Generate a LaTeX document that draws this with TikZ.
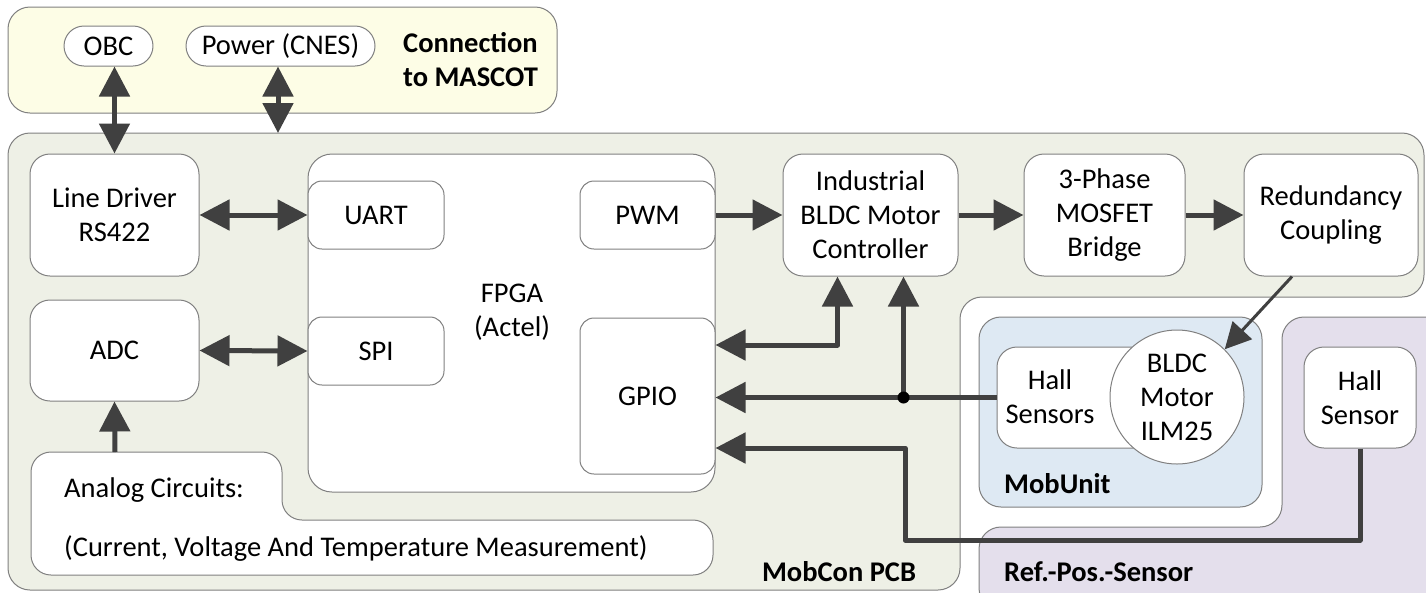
\documentclass[tikz,border=0pt]{standalone}
\usepackage{fontspec}
\setmainfont{Carlito}
\usetikzlibrary{arrows.meta}
\definecolor{yellowbg}{RGB}{253,253,230}
\definecolor{pcbbg}{RGB}{238,240,230}
\definecolor{mobbg}{RGB}{222,233,243}
\definecolor{refbg}{RGB}{228,223,236}
\definecolor{linegray}{RGB}{128,128,128}
\definecolor{arrowgray}{RGB}{64,64,64}
\begin{document}
\begin{tikzpicture}[x=1pt,y=-1pt,line join=round,
    >={Triangle[length=30pt,width=30pt]},
    frame/.style={draw=linegray,line width=1pt,rounded corners=22pt},
    blk/.style={draw=linegray,line width=1pt,fill=white,rounded corners=20pt,align=center,inner sep=0pt},
    subblk/.style={blk,rounded corners=14pt,minimum width=136pt,minimum height=68pt},
    pill/.style={blk,rounded corners=20pt,minimum height=40pt},
    thick arrow/.style={draw=arrowgray,line width=5pt},
    thin arrow/.style={draw=arrowgray,line width=3pt,-{Triangle[length=26pt,width=26pt]}},
    title/.style={font=\bfseries,inner sep=0pt,align=left}]
  \fontsize{28.5}{34}\selectfont
  \useasboundingbox[fill=white] (0,0) rectangle (1426,592);
  % containers
  \draw[frame,fill=yellowbg] (8,7) rectangle (557,113);
  \draw[frame,fill=pcbbg] (8,133) -- (1424,133) -- (1424,297) -- (960,297) -- (960,590) -- (8,590) -- cycle;
  \draw[frame,fill=refbg] (1282,317) -- (1450,317) -- (1450,610) -- (979,610) -- (979,527) -- (1282,527) -- cycle;
  \draw[frame,fill=mobbg] (979,317) rectangle (1262,507);
  \draw[frame,fill=white,rounded corners=20pt] (31,452) -- (282,452) -- (282,520) -- (713,520) -- (713,575) -- (31,575) -- cycle;
  \node[title,anchor=west] (mascot) at (403,60) {Connection\\to MASCOT};
  \node[title] (pcblbl) at (839,572) {MobCon PCB};
  \node[title,anchor=west] (moblbl) at (1004,484) {MobUnit};
  \node[title,anchor=west] (reflbl) at (1004,572) {Ref.-Pos.-Sensor};
  \node[anchor=west,inner sep=0pt] (analog) at (64,490) {Analog Circuits:};
  \node[anchor=west,inner sep=0pt] (measure) at (64,549) {(Current, Voltage And Temperature Measurement)};
  % blocks
  \node[pill,minimum width=89pt] (obc) at (108.5,46) {OBC};
  \node[pill,minimum width=189pt] (power) at (280.5,46) {Power (CNES)};
  \node[blk,minimum width=169pt,minimum height=122pt] (linedrv) at (114.5,215) {Line Driver\\RS422};
  \node[blk,minimum width=169pt,minimum height=101pt] (adc) at (114.5,350.5) {ADC};
  \node[blk,rounded corners=24pt,minimum width=407pt,minimum height=338pt] (fpga) at (511.5,323) {};
  \node[align=center,inner sep=0pt] (fpgalbl) at (512,312) {FPGA\\(Actel)};
  \node[subblk] (uart) at (376,215) {UART};
  \node[subblk] (spi) at (376,351) {SPI};
  \node[subblk,minimum width=135pt] (pwm) at (647.5,215) {PWM};
  \node[subblk,minimum width=135pt,minimum height=156pt] (gpio) at (647.5,396) {GPIO};
  \node[blk,minimum width=175pt,minimum height=122pt] (indctl) at (870.5,215) {Industrial\\BLDC Motor\\Controller};
  \node[blk,minimum width=161pt,minimum height=122pt] (bridge) at (1104.5,215) {3-Phase\\MOSFET\\Bridge};
  \node[blk,minimum width=174pt,minimum height=122pt] (redund) at (1331,215) {Redundancy\\Coupling};
  \node[blk,minimum width=156pt,minimum height=101pt] (hallbox) at (1075,397.5) {};
  \node[align=center,inner sep=0pt] (halllbl) at (1050,397) {Hall\\Sensors};
  \node[blk,circle,minimum size=134pt] (motor) at (1177,397) {BLDC\\Motor\\ILM25};
  \node[blk,minimum width=112pt,minimum height=101pt] (refhall) at (1360,397.5) {Hall\\Sensor};
  % connectors
  \coordinate (pcbtop) at (278,133);
  \coordinate (anatop) at (115,452);
  \coordinate (bend) at (905,540);
  \coordinate (jn) at ([xshift=33pt]indctl.south |- hallbox.west);
  \draw[thick arrow,<->] (linedrv.north |- obc.south) -- (linedrv.north);
  \draw[thick arrow,<->] (power.south -| pcbtop) -- (pcbtop);
  \draw[thick arrow,<->] (linedrv.east) -- (uart.west);
  \draw[thick arrow,<->] (adc.east) -- (spi.west);
  \draw[thick arrow,->] (anatop) -- (adc.south);
  \draw[thick arrow,->] (pwm.east) -- (indctl.west);
  \draw[thick arrow,->] (indctl.east) -- (bridge.west);
  \draw[thick arrow,->] (bridge.east) -- (redund.west);
  \draw[thick arrow,<->] ([yshift=51pt]gpio.east) -| ([xshift=-33pt]indctl.south);
  \draw[thick arrow,->] (hallbox.west) -- (hallbox.west -| gpio.east);
  \draw[thick arrow,->] (jn) -- ([xshift=33pt]indctl.south);
  \fill[black] (jn) circle (6pt);
  \draw[thick arrow,->] (refhall.south) |- (bend) |- ([yshift=-52pt]gpio.east);
  \draw[thin arrow] ([xshift=-39pt]redund.south) -- (motor.north east);
\end{tikzpicture}
\end{document}
